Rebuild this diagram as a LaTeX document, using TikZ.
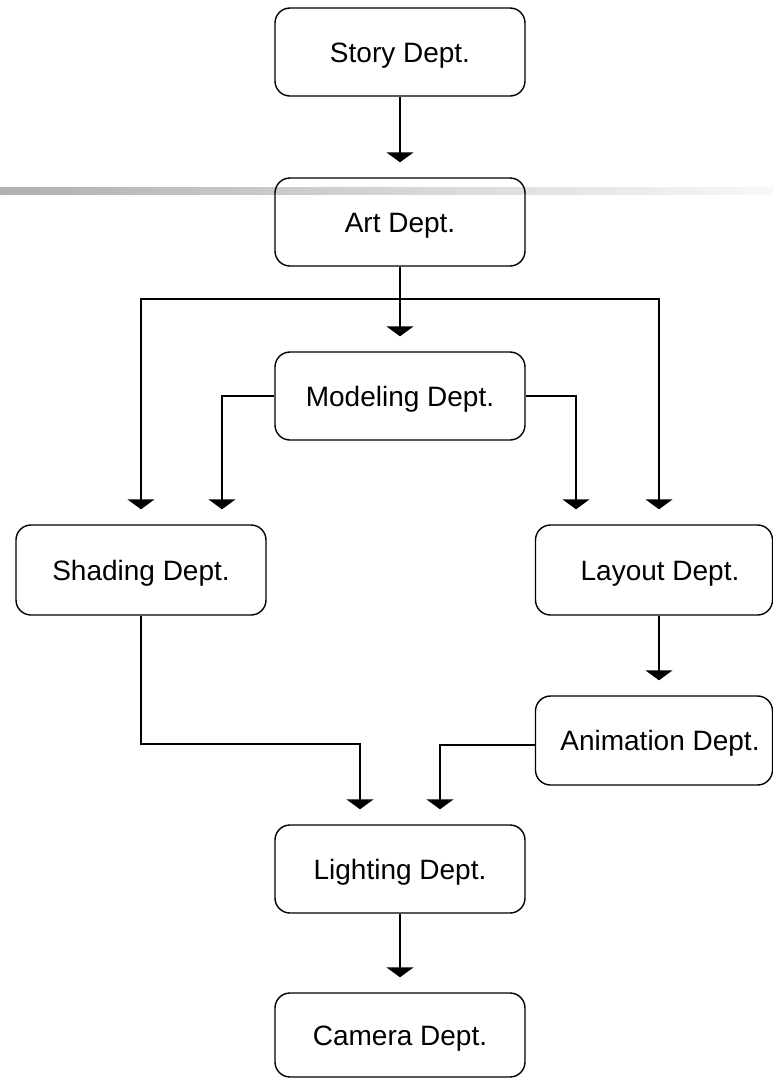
\documentclass[tikz,border=0pt]{standalone}
\usepackage{fontspec}
\setmainfont{Liberation Sans}
\usetikzlibrary{arrows.meta}
\definecolor{barL}{RGB}{176,176,176}
\definecolor{barR}{RGB}{248,248,248}
\begin{document}
\begin{tikzpicture}[x=1pt,y=-1pt,
  dept/.style={draw, line width=1.4pt, rounded corners=15pt, minimum width=250pt,
    minimum height=88pt, inner sep=0pt, text height=20pt, text depth=0pt,
    font=\fontsize{28}{34}\selectfont},
  conn/.style={line width=2pt, -{Triangle[length=10pt,width=27pt]}, shorten >=15pt}]
\useasboundingbox (0,0) rectangle (773,1080);
\shade[left color=barL, right color=barR] (0,187) rectangle (773,194);
\node[dept] (story) at (400,52) {Story Dept.};
\node[dept] (art) at (400,222) {Art Dept.};
\node[dept] (model) at (400,396) {Modeling Dept.};
\node[dept, minimum height=90pt] (shade) at (141,570) {Shading Dept.};
\node[dept, minimum width=237pt, minimum height=90pt] (layout) at (654,570) {\hspace*{12pt}Layout Dept.};
\node[dept, minimum width=237pt, minimum height=89pt] (anim) at (654,740.5) {\hspace*{12pt}Animation Dept.};
\node[dept] (light) at (400,869) {Lighting Dept.};
\node[dept, minimum height=84pt] (camera) at (400,1035) {Camera Dept.};
\draw[conn] (story) -- (art);
\draw[conn] (art) -- (model);
\draw[conn] (art.south) -- ++(0,32) -| (shade.north);
\draw[conn] (art.south) -- ++(0,32) -| ([xshift=5pt]layout.north);
\draw[conn] (model.west) -| ([xshift=81pt]shade.north);
\draw[conn] (model.east) -| ([xshift=-78pt]layout.north);
\draw[conn] ([xshift=5pt]layout.south) -- ([xshift=5pt]anim.north);
\draw[conn] (shade.south) -- ++(0,128) -| ([xshift=-40pt]light.north);
\draw[conn] ([yshift=-4pt]anim.west) -| ([xshift=40pt]light.north);
\draw[conn] (light) -- (camera);
\end{tikzpicture}
\end{document}
